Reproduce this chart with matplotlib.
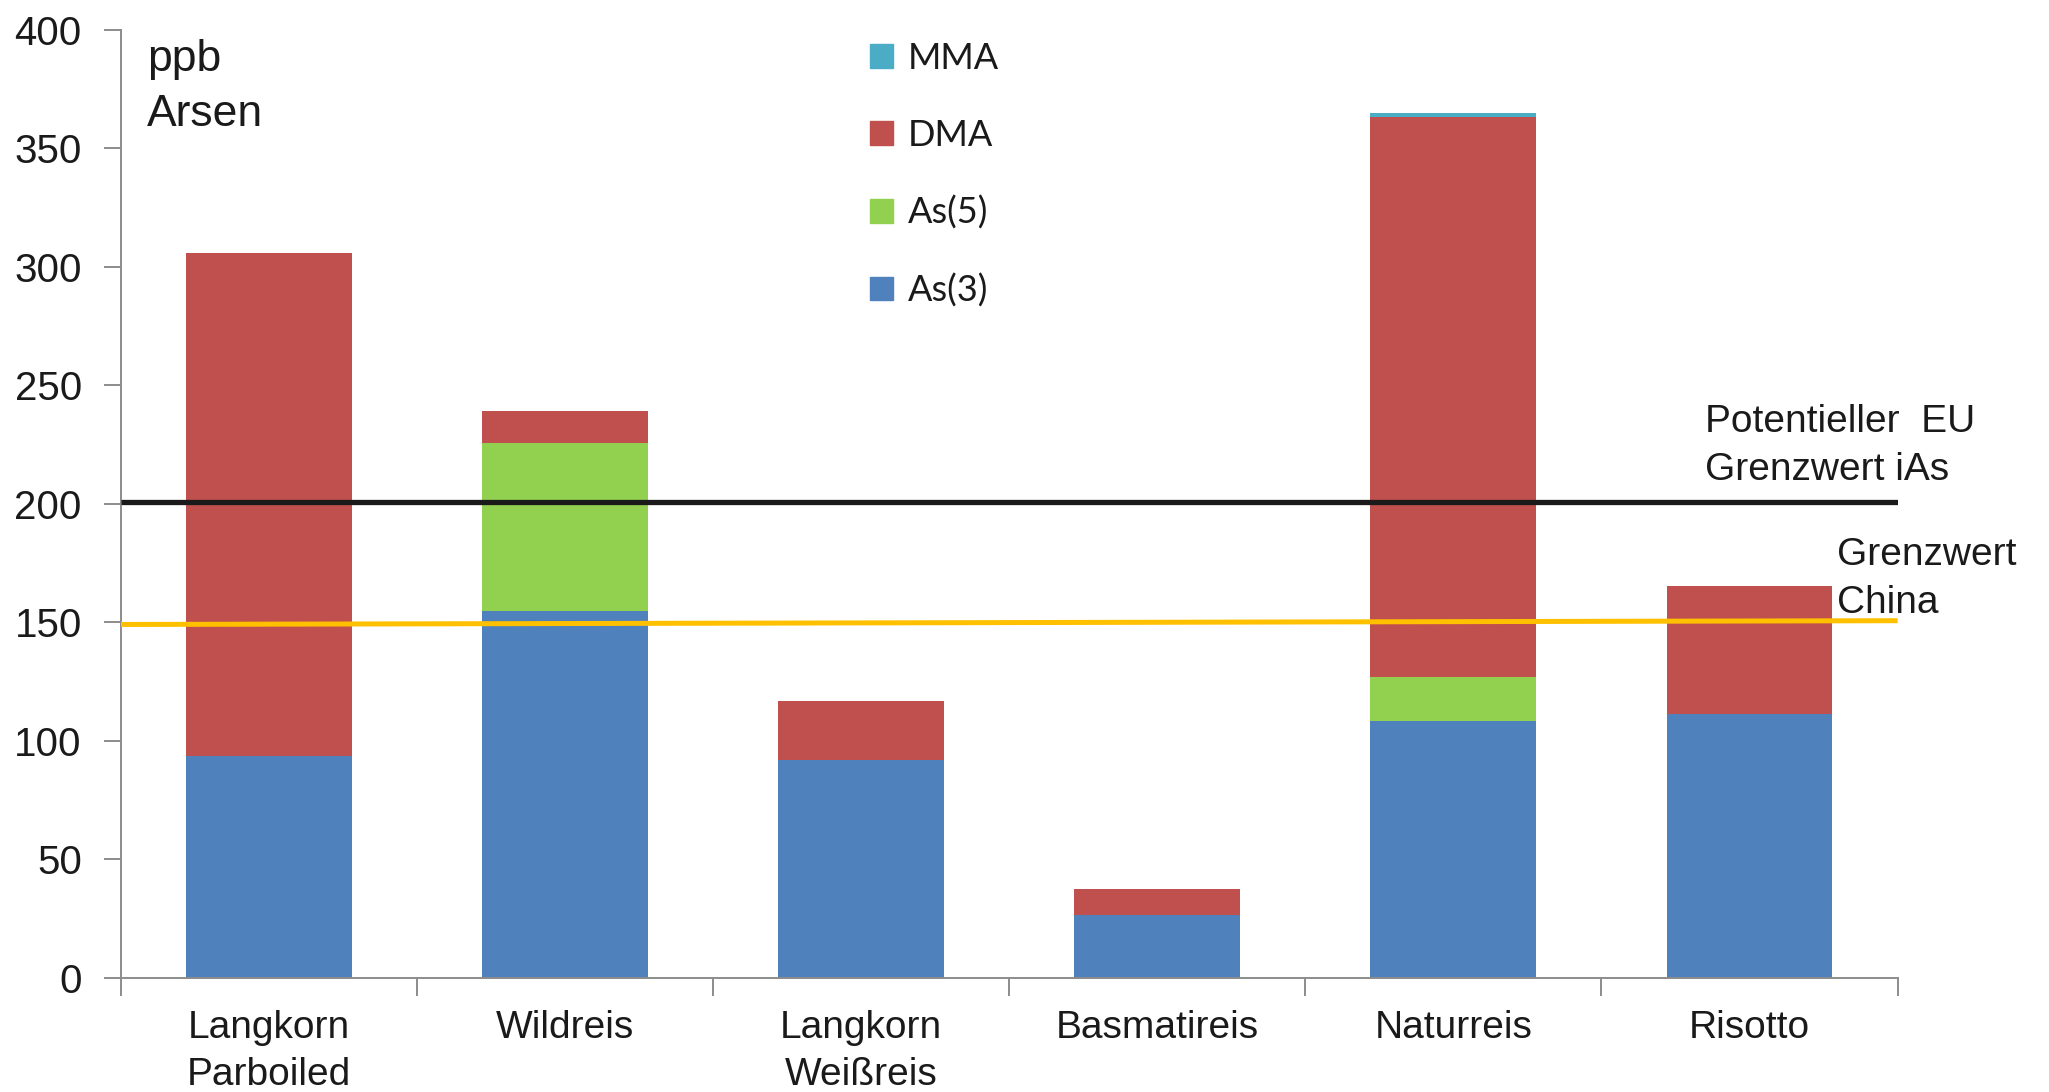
import matplotlib.pyplot as plt
from matplotlib.patches import Patch
import numpy as np

# Arsen-Spezies je Reissorte in ppb
sorten = ['Langkorn\nParboiled', 'Wildreis', 'Langkorn\nWeißreis', 'Basmatireis', 'Naturreis', 'Risotto']
as3 = [93.5, 154.6, 91.7, 26.6, 108.4, 111.2]
as5 = [0, 71.0, 0, 0, 18.6, 0]
dma = [212.4, 13.7, 25.0, 10.6, 236.0, 54.0]
mma = [0, 0, 0, 0, 1.7, 0]

# Grenzwerte (EU potentiell, China) -- Linienenden links/rechts
eu_grenze = [200.6, 200.6]
china_grenze = [149.0, 150.6]

farben = {'As(3)': '#4F81BD', 'As(5)': '#92D050', 'DMA': '#C0504D', 'MMA': '#4BACC6'}
txt = '#1a1a1a'
grau = '#8c8c8c'

plt.rcParams['font.family'] = ['Liberation Sans', 'DejaVu Sans']

fig = plt.figure(figsize=(20.49, 10.92), dpi=100)
ax = fig.add_axes([0.0589, 0.1048, 0.8672, 0.868])

x = np.arange(len(sorten))
w = 0.56
unten = np.zeros(len(sorten))
for name, werte in [('As(3)', as3), ('As(5)', as5), ('DMA', dma), ('MMA', mma)]:
    ax.bar(x, werte, w, bottom=unten, color=farben[name], label=name, zorder=2)
    unten += np.array(werte)

xl = (-0.5, len(sorten) - 0.5)
ax.plot(xl, eu_grenze, color=txt, lw=3.8, zorder=3, solid_capstyle='butt')
ax.plot(xl, china_grenze, color='#FFC000', lw=3.6, zorder=3, solid_capstyle='butt')

ax.set_xlim(*xl)
ax.set_ylim(0, 400)
ax.set_yticks(np.arange(0, 401, 50))
ax.set_xticks(x)
ax.set_xticklabels(sorten, linespacing=1.4)
ax.set_xticks(np.arange(-0.5, len(sorten)), minor=True)
ax.tick_params(axis='x', which='major', length=0, pad=23, labelsize=28, labelcolor=txt)
ax.tick_params(axis='x', which='minor', length=13, width=1.4, color=grau, direction='out')
ax.tick_params(axis='y', length=12, width=1.4, color=grau, pad=16, labelsize=29, labelcolor=txt)
ax.spines[['top', 'right']].set_visible(False)
for s in ('left', 'bottom'):
    ax.spines[s].set_color(grau)
    ax.spines[s].set_linewidth(1.4)

ax.text(147 / 2049, 1 - 39 / 1092, 'ppb\nArsen', transform=fig.transFigure,
        fontsize=32, color=txt, va='top', ha='left', linespacing=1.45)

ax.text(1705 / 2049, 1 - 404 / 1092, 'Potentieller  EU\nGrenzwert iAs', transform=fig.transFigure,
        fontsize=28, color=txt, va='top', ha='left', linespacing=1.42)
ax.text(1837 / 2049, 1 - 537 / 1092, 'Grenzwert\nChina', transform=fig.transFigure,
        fontsize=28, color=txt, va='top', ha='left', linespacing=1.42)

griffe = [Patch(color=farben[n], label=n) for n in ['MMA', 'DMA', 'As(5)', 'As(3)']]
leg = fig.legend(handles=griffe, loc='upper left', bbox_to_anchor=(870 / 2049, 1 - 42 / 1092),
                 frameon=False, borderpad=0, borderaxespad=0, handlelength=0.64, handleheight=0.64,
                 handletextpad=0.4, labelspacing=1.21,
                 prop={'family': ['Lato', 'DejaVu Sans'], 'size': 26})
for t in leg.get_texts():
    t.set_color(txt)

fig.savefig('out.png', dpi=100, facecolor='white')
